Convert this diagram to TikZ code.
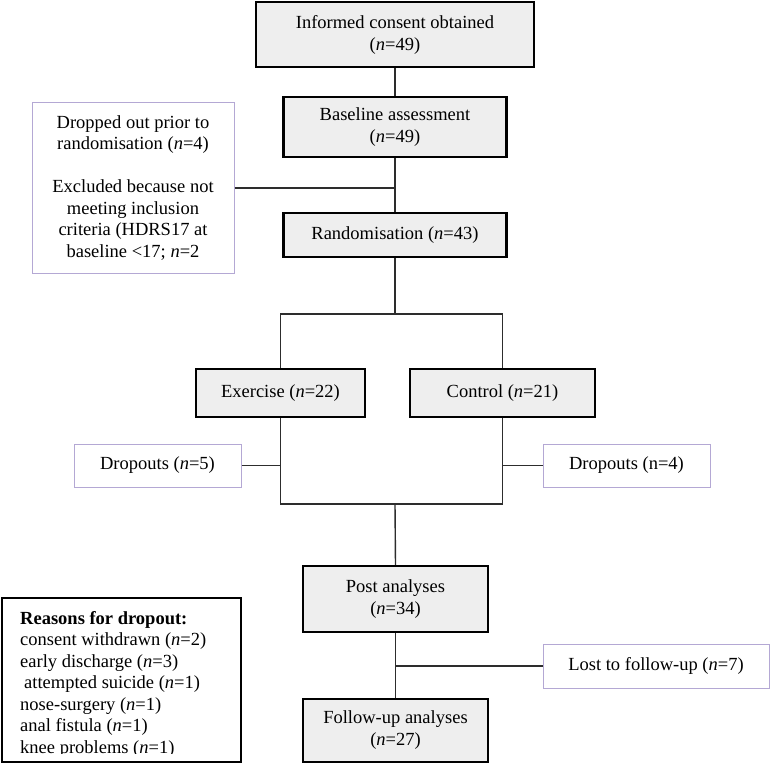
\documentclass[tikz,border=0pt]{standalone}
\usepackage{fontspec}
\setmainfont{Liberation Serif}
\definecolor{boxfill}{RGB}{238,238,238}
\definecolor{sideline}{RGB}{180,168,212}
\definecolor{connc}{RGB}{45,45,45}
\newcommand{\nn}{\textit{n}}
\begin{document}
\begin{tikzpicture}[x=1pt,y=-1pt,
  font=\fontsize{18.5}{22}\selectfont,
  mainbox/.style={draw=black, line width=2.2pt, fill=boxfill, align=center, inner sep=0pt},
  sidebox/.style={draw=sideline, line width=1pt, fill=white, align=center, inner sep=0pt},
  conn/.style={draw=connc, line width=1.4pt}]
\useasboundingbox (0,0) rectangle (772,765);
\fill[white] (0,0) rectangle (772,765);

% main boxes
\node[mainbox, minimum width=278pt, minimum height=65pt] (consent) at (395,34.5) {Informed consent obtained\\(\nn=49)};
\node[mainbox, minimum width=223pt, minimum height=60pt] (baseline) at (395,127) {Baseline assessment\\(\nn=49)};
\node[mainbox, minimum width=223pt, minimum height=44pt] (rand) at (395,235) {Randomisation (\nn=43)};
\node[mainbox, minimum width=169pt, minimum height=48pt] (ex) at (280.5,393) {Exercise (\nn=22)};
\node[mainbox, minimum width=185pt, minimum height=48pt] (ctrl) at (502.5,393) {Control (\nn=21)};
\node[mainbox, minimum width=185pt, minimum height=66pt] (post) at (395.5,599) {Post analyses\\(\nn=34)};
\node[mainbox, minimum width=185pt, minimum height=63pt] (follow) at (395.5,730.5) {Follow-up analyses\\(\nn=27)};

% side boxes
\node[sidebox, minimum width=202pt, minimum height=170pt, font=\fontsize{18.5}{21.5}\selectfont] (excl) at (133,188)
  {Dropped out prior to\\randomisation (\nn=4)\\[21.5pt]Excluded because not\\meeting inclusion\\criteria (HDRS17 at\\baseline <17; \nn=2};
\node[sidebox, minimum width=167pt, minimum height=43pt] (dropa) at (157.5,465.5) {Dropouts (\nn=5)};
\node[sidebox, minimum width=167pt, minimum height=43pt] (dropb) at (626.5,465.5) {Dropouts (n=4)};
\node[sidebox, minimum width=226pt, minimum height=44pt] (lost) at (656,666) {Lost to follow-up (\nn=7)};

% reasons box
\node[draw=black, line width=2.2pt, fill=white, minimum width=239pt, minimum height=164pt, inner sep=0pt] (reasons) at (121.5,680) {};
\begin{scope}
\clip (5,600) rectangle (238,753);
\node[anchor=north west, align=left, inner sep=0pt, font=\fontsize{18.5}{21.5}\selectfont] (rtext) at (20,611)
  {\textbf{Reasons for dropout:}\\consent withdrawn (\nn=2)\\early discharge (\nn=3)\\\hspace{4pt}attempted suicide (\nn=1)\\nose-surgery (\nn=1)\\anal fistula (\nn=1)\\knee problems (\nn=1)};
\end{scope}

% connectors
\coordinate (split) at (395,314);
\coordinate (merge) at (395,504);
\draw[conn] (consent.south) -- (baseline.north);
\draw[conn] (baseline.south) -- (rand.north);
\draw[conn] (excl.east) -- (excl.east -| rand.north);
\draw[conn] (rand.south) -- (split);
\draw[conn] (ex.north) |- (split) -| (ctrl.north);
\draw[conn] (ex.south) |- (merge) -| (ctrl.south);
\draw[conn] (dropa.east) -- (dropa.east -| ex.south);
\draw[conn] (dropb.west) -- (dropb.west -| ctrl.south);
\draw[conn] (merge) -- (post.north);
\draw[conn] (post.south) -- (follow.north);
\draw[conn] (lost.west) -- (lost.west -| post.south);
\end{tikzpicture}
\end{document}
